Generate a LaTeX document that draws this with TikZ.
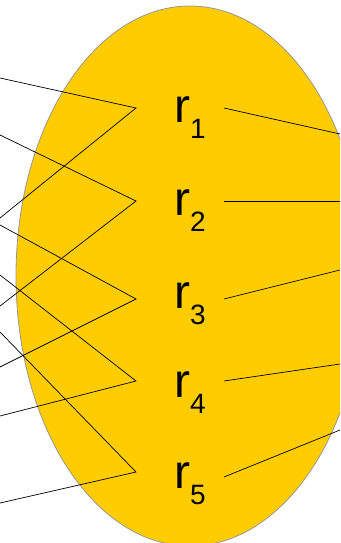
\documentclass[tikz,border=0pt]{standalone}
\usepackage{fontspec}
\setmainfont{Liberation Sans}
\usepackage{xcolor}
\definecolor{setyellow}{RGB}{255,204,0}
\definecolor{rimgray}{RGB}{150,150,150}

\begin{document}
\begin{tikzpicture}[x=1pt, y=-1pt,
  wire/.style={black, line width=0.7pt},
  lbl/.style={anchor=base west, inner sep=0pt, font=\fontsize{48}{56}\selectfont}]
\useasboundingbox (0,0) rectangle (340,543);
\clip (0,0) rectangle (340,543);
\fill[setyellow, draw=rimgray, line width=0.8pt] (190,276) ellipse [x radius=174, y radius=270];
% the five elements
\foreach \i/\yb in {1/122, 2/215, 3/308, 4/397, 5/488}
  \node[lbl] (r\i) at (174,\yb) {r\lower16pt\hbox{\fontsize{28}{30}\selectfont\i}};
\foreach \i/\ya/\yb in {1/108/108, 2/201/201, 3/299/299, 4/381/381, 5/472/477} {
  \coordinate (in\i) at (136,\ya);
  \coordinate (out\i) at (224,\yb);
}
% pairs coming in from the left
\foreach \i/\ya/\yb in {1/78/218, 2/135/306, 3/225/367, 4/275/416, 5/332/503} {
  \coordinate (wa\i) at (0,\ya);
  \coordinate (wb\i) at (0,\yb);
  \draw[wire] (wa\i) -- (in\i) -- (wb\i);
}
% single lines out to the right
\foreach \i/\y in {1/134, 2/201, 3/270, 4/364, 5/430} {
  \coordinate (e\i) at (340,\y);
  \draw[wire] (out\i) -- (e\i);
}
\end{tikzpicture}
\end{document}
